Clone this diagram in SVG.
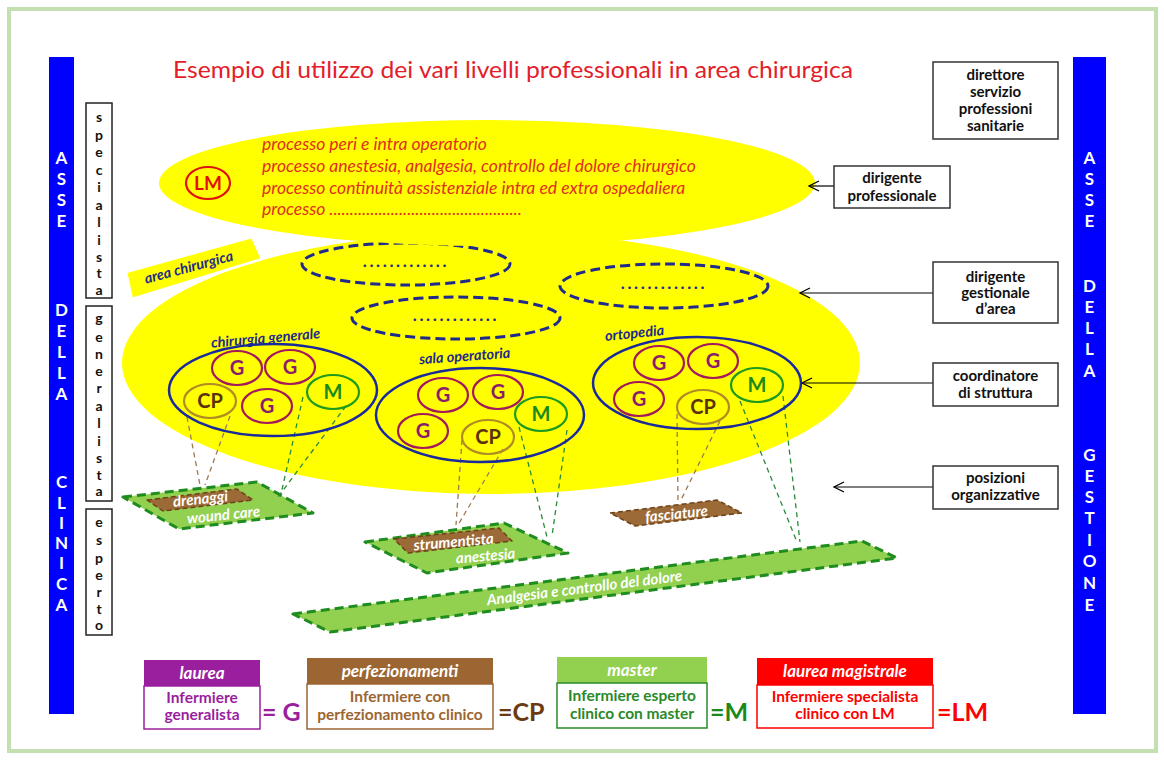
<svg xmlns="http://www.w3.org/2000/svg" width="1164" height="762" viewBox="0 0 1164 762">
<defs>
<marker id="arr" markerWidth="14" markerHeight="14" refX="12" refY="7" orient="auto" markerUnits="userSpaceOnUse">
<polyline points="2,2 12,7 2,12" fill="none" stroke="#000" stroke-width="1.3"/>
</marker>
<style>
.f{font-family:Lato,"Liberation Sans",sans-serif}
.bar{fill:#0000ff}
.barT{font-family:Lato,"Liberation Sans",sans-serif;font-weight:bold;font-size:17px;fill:#fff;text-anchor:middle}
.vbox{fill:#fff;stroke:#222;stroke-width:1.5}
.vT{font-family:Lato,"Liberation Sans",sans-serif;font-weight:bold;font-size:14px;fill:#111;text-anchor:middle}
.rbox{fill:#fff;stroke:#333;stroke-width:1.5}
.rT{font-family:Lato,"Liberation Sans",sans-serif;font-weight:bold;font-size:15px;fill:#111;text-anchor:middle}
.conn{stroke:#000;stroke-width:1.2;fill:none}
.yel{fill:#ffff00}
.dash{fill:none;stroke:#1f2a8c;stroke-width:3;stroke-dasharray:10 5}
.dots{font-family:Lato,"Liberation Sans",sans-serif;font-weight:bold;font-size:17px;letter-spacing:2.6px;fill:#1f2a8c;text-anchor:middle}
.grp{fill:none;stroke:#1a2a9c;stroke-width:2.5}
.gl{font-family:Lato,"Liberation Sans",sans-serif;font-weight:bold;font-style:italic;font-size:14.5px;fill:#1f2a8c;text-anchor:middle}
.cG{fill:none;stroke:#a3195b;stroke-width:2.2}
.cCP{fill:none;stroke:#b08a25;stroke-width:2.2}
.cM{fill:none;stroke:#1e9a1e;stroke-width:2.2}
.tG{font-family:Lato,"Liberation Sans",sans-serif;font-weight:bold;font-size:20px;fill:#8b1c6c;text-anchor:middle}
.tCP{font-family:Lato,"Liberation Sans",sans-serif;font-weight:bold;font-size:20px;fill:#5a3210;text-anchor:middle}
.tM{font-family:Lato,"Liberation Sans",sans-serif;font-weight:bold;font-size:20px;fill:#1a8a1a;text-anchor:middle}
.lb{stroke:#a07850;stroke-width:1.3;stroke-dasharray:5 4;fill:none}
.lg{stroke:#2a8a3a;stroke-width:1.3;stroke-dasharray:5 4;fill:none}
.pg{fill:#92d050;stroke:#1e8c1e;stroke-width:3;stroke-dasharray:9 5;stroke-linejoin:round}
.pb{fill:#9c6a36;stroke:#6e4218;stroke-width:1.5;stroke-dasharray:5 3;stroke-linejoin:round}
.wt{font-family:Lato,"Liberation Sans",sans-serif;font-weight:bold;font-style:italic;font-size:15px;fill:#fff;text-anchor:middle}
.proc{font-family:Lato,"Liberation Sans",sans-serif;font-style:italic;font-size:17.5px;fill:#e0301e}
.hdT{font-family:Lato,"Liberation Sans",sans-serif;font-weight:bold;font-style:italic;font-size:17px;fill:#fff;text-anchor:middle}
.bdT{font-family:Lato,"Liberation Sans",sans-serif;font-weight:bold;font-size:15.5px;text-anchor:middle}
.eq{font-family:Lato,"Liberation Sans",sans-serif;font-weight:bold;font-size:25px}
</style>
</defs>
<rect x="0" y="0" width="1164" height="762" fill="#fff"/>
<rect x="9" y="9" width="1147" height="742" fill="none" stroke="#c5e0b0" stroke-width="4"/>

<!-- title -->
<text x="173" y="78" class="f" font-size="23" fill="#e3202a" textLength="680" lengthAdjust="spacingAndGlyphs">Esempio di utilizzo dei vari livelli professionali in area chirurgica</text>

<!-- left axis -->
<g id="asse-clinica">
<rect class="bar" x="49" y="57" width="25" height="657"/>
<text class="barT"><tspan x="61.5" y="164">A</tspan><tspan x="61.5" y="185">S</tspan><tspan x="61.5" y="206">S</tspan><tspan x="61.5" y="227">E</tspan><tspan x="61.5" y="316">D</tspan><tspan x="61.5" y="337">E</tspan><tspan x="61.5" y="358">L</tspan><tspan x="61.5" y="379">L</tspan><tspan x="61.5" y="400">A</tspan><tspan x="61.5" y="488">C</tspan><tspan x="61.5" y="509">L</tspan><tspan x="61.5" y="529">I</tspan><tspan x="61.5" y="549">N</tspan><tspan x="61.5" y="569">I</tspan><tspan x="61.5" y="590">C</tspan><tspan x="61.5" y="611">A</tspan></text>
</g>
<g id="asse-gestione">
<rect class="bar" x="1073" y="57" width="33" height="657"/>
<text class="barT"><tspan x="1089.5" y="164">A</tspan><tspan x="1089.5" y="185">S</tspan><tspan x="1089.5" y="206">S</tspan><tspan x="1089.5" y="227">E</tspan><tspan x="1089.5" y="292">D</tspan><tspan x="1089.5" y="313">E</tspan><tspan x="1089.5" y="334">L</tspan><tspan x="1089.5" y="355">L</tspan><tspan x="1089.5" y="377">A</tspan><tspan x="1089.5" y="461">G</tspan><tspan x="1089.5" y="482">E</tspan><tspan x="1089.5" y="503">S</tspan><tspan x="1089.5" y="524">T</tspan><tspan x="1089.5" y="546">I</tspan><tspan x="1089.5" y="567">O</tspan><tspan x="1089.5" y="589">N</tspan><tspan x="1089.5" y="611">E</tspan></text>
</g>

<g id="specialista">
<rect class="vbox" x="86" y="103" width="26" height="195"/>
<text class="vT"><tspan x="99" y="122">s</tspan><tspan x="99" y="140">p</tspan><tspan x="99" y="157">e</tspan><tspan x="99" y="175">c</tspan><tspan x="99" y="192">i</tspan><tspan x="99" y="210">a</tspan><tspan x="99" y="227">l</tspan><tspan x="99" y="245">i</tspan><tspan x="99" y="262">s</tspan><tspan x="99" y="278">t</tspan><tspan x="99" y="295">a</tspan></text>
</g>
<g id="generalista">
<rect class="vbox" x="86" y="306" width="26" height="195"/>
<text class="vT"><tspan x="99" y="323">g</tspan><tspan x="99" y="342">e</tspan><tspan x="99" y="359">n</tspan><tspan x="99" y="376">e</tspan><tspan x="99" y="393">r</tspan><tspan x="99" y="411">a</tspan><tspan x="99" y="428">l</tspan><tspan x="99" y="446">i</tspan><tspan x="99" y="463">s</tspan><tspan x="99" y="480">t</tspan><tspan x="99" y="496">a</tspan></text>
</g>
<g id="esperto">
<rect class="vbox" x="86" y="509" width="26" height="126"/>
<text class="vT"><tspan x="99" y="527">e</tspan><tspan x="99" y="545">s</tspan><tspan x="99" y="563">p</tspan><tspan x="99" y="580">e</tspan><tspan x="99" y="597">r</tspan><tspan x="99" y="614">t</tspan><tspan x="99" y="630">o</tspan></text>
</g>

<!-- yellow areas -->
<g id="area-chirurgica">
<ellipse class="yel" cx="491" cy="363" rx="369" ry="131"/>
<polygon points="126,272 252,237 262,259 132,299" fill="#ffff00" stroke="#fff" stroke-width="2.5"/>
<text class="gl" transform="translate(190,272) rotate(-15)">area  chirurgica</text>
<ellipse class="dash" cx="406" cy="264" rx="104" ry="21"/>
<text class="dots" x="406" y="267">.............</text>
<ellipse class="dash" cx="456" cy="318" rx="104" ry="21"/>
<text class="dots" x="456" y="321">.............</text>
<ellipse class="dash" cx="664" cy="286" rx="104" ry="22"/>
<text class="dots" x="664" y="289">.............</text>
</g>

<g id="processi-LM">
<ellipse class="yel" cx="487" cy="183" rx="328" ry="63"/>
<ellipse cx="208" cy="183" rx="22" ry="16" fill="none" stroke="#e01010" stroke-width="2.2"/>
<text x="208" y="190" class="f" font-weight="bold" font-size="19" fill="#e01010" text-anchor="middle">LM</text>
<text class="proc"><tspan x="262" y="150">processo peri e intra operatorio</tspan><tspan x="262" y="172">processo anestesia, analgesia, controllo del dolore chirurgico</tspan><tspan x="262" y="194">processo continuità assistenziale intra ed extra ospedaliera</tspan><tspan x="262" y="215">processo ...............................................</tspan></text>
</g>

<!-- parallelograms -->
<g id="wound-care">
<polygon class="pg" points="123,497 257,482 313,513 179,529"/>
<polygon class="pb" points="147,500 237,489 253,500 163,511"/>
<text class="wt" transform="translate(201,504) rotate(-6)">drenaggi</text>
<text class="wt" transform="translate(224,520) rotate(-6)">wound care</text>
</g>
<g id="anestesia">
<polygon class="pg" points="365,542 504,523 568,553 427,573"/>
<polygon class="pb" points="394,539 499,528 512,541 408,553"/>
<text class="wt" transform="translate(454,547) rotate(-5)">strumentista</text>
<text class="wt" transform="translate(486,561) rotate(-5)">anestesia</text>
</g>
<g id="fasciature">
<polygon class="pb" points="610,513 717,500 742,513 635,526"/>
<text class="wt" transform="translate(677,519) rotate(-6)">fasciature</text>
</g>
<g id="analgesia">
<polygon class="pg" points="293,614 862,541 897,558 330,632"/>
<text class="wt" transform="translate(585,593) rotate(-7.2)">Analgesia e controllo del dolore</text>
</g>

<!-- connectors -->
<g id="connectors">
<line class="lb" x1="187" y1="417" x2="200" y2="485"/>
<line class="lb" x1="230" y1="416" x2="205" y2="485"/>
<line class="lg" x1="303" y1="397" x2="281" y2="494"/>
<line class="lg" x1="346" y1="406" x2="278" y2="497"/>
<line class="lb" x1="462" y1="440" x2="456" y2="525"/>
<line class="lb" x1="503" y1="449" x2="458" y2="525"/>
<line class="lg" x1="519" y1="427" x2="547" y2="537"/>
<line class="lg" x1="567" y1="430" x2="552" y2="536"/>
<line class="lb" x1="677" y1="414" x2="678" y2="502"/>
<line class="lb" x1="720" y1="421" x2="680" y2="502"/>
<line class="lg" x1="740" y1="401" x2="797" y2="542"/>
<line class="lg" x1="783" y1="396" x2="800" y2="542"/>
<line class="conn" x1="834" y1="186" x2="809" y2="186" marker-end="url(#arr)"/>
<line class="conn" x1="933" y1="293" x2="800" y2="293" marker-end="url(#arr)"/>
<line class="conn" x1="933" y1="383" x2="802" y2="383" marker-end="url(#arr)"/>
<line class="conn" x1="933" y1="487" x2="834" y2="487" marker-end="url(#arr)"/>
</g>

<!-- structures -->
<g id="chirurgia-generale">
<text class="gl" transform="translate(266,343) rotate(-5)">chirurgia generale</text>
<ellipse class="grp" cx="273" cy="390" rx="104" ry="46"/>
<ellipse class="cG" cx="237" cy="368" rx="25" ry="17"/><text class="tG" x="237" y="375">G</text>
<ellipse class="cG" cx="290" cy="367" rx="25" ry="17"/><text class="tG" x="290" y="374">G</text>
<ellipse class="cCP" cx="210" cy="401" rx="26" ry="17"/><text class="tCP" x="210" y="408">CP</text>
<ellipse class="cG" cx="267" cy="406" rx="25" ry="17"/><text class="tG" x="267" y="413">G</text>
<ellipse class="cM" cx="333" cy="392" rx="26" ry="17"/><text class="tM" x="333" y="399">M</text>
</g>
<g id="sala-operatoria">
<text class="gl" transform="translate(465,361) rotate(-4)">sala operatoria</text>
<ellipse class="grp" cx="480" cy="415" rx="104" ry="47"/>
<ellipse class="cG" cx="443" cy="395" rx="25" ry="17"/><text class="tG" x="443" y="402">G</text>
<ellipse class="cG" cx="498" cy="392" rx="25" ry="17"/><text class="tG" x="498" y="399">G</text>
<ellipse class="cG" cx="423" cy="431" rx="25" ry="17"/><text class="tG" x="423" y="438">G</text>
<ellipse class="cCP" cx="488" cy="437" rx="26" ry="17"/><text class="tCP" x="488" y="444">CP</text>
<ellipse class="cM" cx="541" cy="414" rx="26" ry="17"/><text class="tM" x="541" y="421">M</text>
</g>
<g id="ortopedia">
<text class="gl" transform="translate(635,338) rotate(-6)">ortopedia</text>
<ellipse class="grp" cx="697" cy="383" rx="104" ry="46"/>
<ellipse class="cG" cx="659" cy="363" rx="25" ry="17"/><text class="tG" x="659" y="370">G</text>
<ellipse class="cG" cx="713" cy="361" rx="25" ry="17"/><text class="tG" x="713" y="368">G</text>
<ellipse class="cG" cx="639" cy="399" rx="25" ry="17"/><text class="tG" x="639" y="406">G</text>
<ellipse class="cCP" cx="703" cy="407" rx="26" ry="17"/><text class="tCP" x="703" y="414">CP</text>
<ellipse class="cM" cx="757" cy="385" rx="26" ry="17"/><text class="tM" x="757" y="392">M</text>
</g>

<!-- right boxes -->
<g id="direttore">
<rect class="rbox" x="933" y="62" width="125" height="77"/>
<text class="rT"><tspan x="995.5" y="80">direttore</tspan><tspan x="995.5" y="97">servizio</tspan><tspan x="995.5" y="114">professioni</tspan><tspan x="995.5" y="131">sanitarie</tspan></text>
</g>
<g id="dirigente-professionale">
<rect class="rbox" x="834" y="166" width="116" height="42"/>
<text class="rT"><tspan x="892" y="183">dirigente</tspan><tspan x="892" y="201">professionale</tspan></text>
</g>
<g id="dirigente-gestionale">
<rect class="rbox" x="933" y="262" width="125" height="61"/>
<text class="rT"><tspan x="995.5" y="282">dirigente</tspan><tspan x="995.5" y="298">gestionale</tspan><tspan x="995.5" y="314">d’area</tspan></text>
</g>
<g id="coordinatore">
<rect class="rbox" x="933" y="363" width="125" height="43"/>
<text class="rT"><tspan x="995.5" y="381">coordinatore</tspan><tspan x="995.5" y="398">di struttura</tspan></text>
</g>
<g id="posizioni">
<rect class="rbox" x="933" y="466" width="125" height="43"/>
<text class="rT"><tspan x="995.5" y="483">posizioni</tspan><tspan x="995.5" y="500">organizzative</tspan></text>
</g>

<!-- legend -->
<g id="legend-laurea">
<rect x="144" y="660" width="116" height="26" fill="#9a1f9e"/>
<text class="hdT" x="202" y="679">laurea</text>
<rect x="144" y="686" width="116" height="43" fill="#fff" stroke="#9a1f9e" stroke-width="1.5"/>
<text class="bdT" fill="#9a1f9e"><tspan x="202" y="703">Infermiere</tspan><tspan x="202" y="720">generalista</tspan></text>
<text class="eq" x="262" y="721" fill="#9a1f9e">= G</text>
</g>
<g id="legend-perfezionamenti">
<rect x="307" y="658" width="186" height="26" fill="#9c6632"/>
<text class="hdT" x="400" y="677">perfezionamenti</text>
<rect x="307" y="684" width="186" height="45" fill="#fff" stroke="#9c6632" stroke-width="1.5"/>
<text class="bdT" fill="#9c6632"><tspan x="400" y="702">Infermiere con</tspan><tspan x="400" y="720">perfezionamento clinico</tspan></text>
<text class="eq" x="498" y="721" fill="#6b3a10">=CP</text>
</g>
<g id="legend-master">
<rect x="557" y="657" width="150" height="26" fill="#92d050"/>
<text class="hdT" x="632" y="676">master</text>
<rect x="557" y="683" width="150" height="45" fill="#fff" stroke="#2a8a2a" stroke-width="1.5"/>
<text class="bdT" fill="#2a8a2a"><tspan x="632" y="701">Infermiere esperto</tspan><tspan x="632" y="719">clinico con master</tspan></text>
<text class="eq" x="710" y="721" fill="#1a8a1a">=M</text>
</g>
<g id="legend-lm">
<rect x="757" y="658" width="176" height="27" fill="#ff0000"/>
<text class="hdT" x="845" y="677">laurea magistrale</text>
<rect x="757" y="685" width="176" height="43" fill="#fff" stroke="#ff0000" stroke-width="1.5"/>
<text class="bdT" fill="#ff0000"><tspan x="845" y="702">Infermiere specialista</tspan><tspan x="845" y="719">clinico con LM</tspan></text>
<text class="eq" x="937" y="721" fill="#ff0000">=LM</text>
</g>
</svg>
